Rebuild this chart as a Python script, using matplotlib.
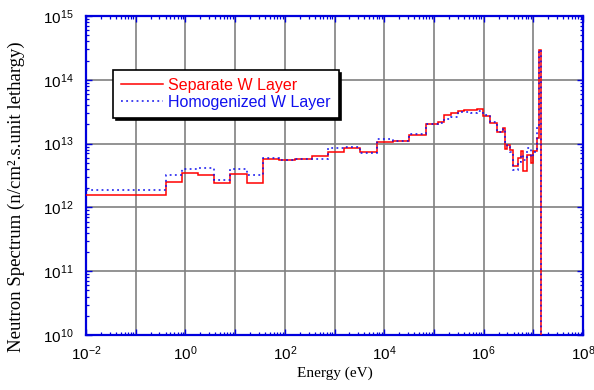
import numpy as np
import matplotlib
matplotlib.use("Agg")
import matplotlib.pyplot as plt
from matplotlib.ticker import LogLocator, FuncFormatter, NullFormatter

plt.rcParams['mathtext.fontset'] = 'custom'
plt.rcParams['mathtext.rm'] = 'Liberation Sans'
plt.rcParams['mathtext.it'] = 'Liberation Sans:italic'
plt.rcParams['mathtext.bf'] = 'Liberation Sans:bold'
plt.rcParams['font.family'] = ['Liberation Sans', 'DejaVu Sans']

# Energy group boundaries (eV)
edges = [1e-2, 0.414, 0.855, 1.82, 3.82, 8.0, 17.1, 36.4, 77.5, 164, 348, 730,
         1553, 3260, 7000, 14800, 31560, 67800, 1.19e5, 1.62e5, 2.21e5, 3.01e5,
         4.03e5, 5.48e5, 7.26e5, 9.86e5, 1.345e6, 1.836e6, 2.42e6, 2.66e6, 3.0e6,
         3.4e6, 3.96e6, 4.99e6, 5.58e6, 6.3e6, 7.37e6, 8.87e6, 1.0e7, 1.17e7,
         1.32e7, 1.43e7, 1e8]

separate = [1.55e12, 2.47e12, 3.50e12, 3.18e12, 2.41e12, 3.34e12, 2.39e12, 5.80e12,
            5.47e12, 5.80e12, 6.39e12, 7.31e12, 8.38e12, 7.46e12, 1.06e13, 1.10e13,
            1.34e13, 2.01e13, 2.16e13, 2.81e13, 3.07e13, 3.24e13, 3.36e13, 3.36e13,
            3.45e13, 2.71e13, 2.14e13, 1.50e13, 1.74e13, 8.15e12, 9.40e12, 7.94e12,
            4.46e12, 5.89e12, 7.74e12, 3.72e12, 6.63e12, 5.02e12, 7.74e12, 1.24e13,
            2.93e14, 1e5]

homogenized = [1.89e12, 3.22e12, 4.00e12, 4.10e12, 2.66e12, 4.00e12, 3.26e12, 6.01e12,
               5.59e12, 5.74e12, 5.76e12, 8.63e12, 8.85e12, 7.13e12, 1.18e13, 1.09e13,
               1.43e13, 2.01e13, 2.13e13, 2.40e13, 2.64e13, 3.10e13, 3.16e13, 3.05e13,
               3.28e13, 2.81e13, 2.20e13, 1.54e13, 1.68e13, 1.07e13, 8.94e12, 7.46e12,
               3.86e12, 5.20e12, 6.63e12, 5.53e12, 8.44e12, 6.24e12, 7.46e12, 1.84e13,
               2.93e14, 1e5]

labels = ["Separate W Layer", "Homogenized W Layer"]

fig = plt.figure(figsize=(5.94, 3.90), dpi=100)
ax = fig.add_axes([86/594, 1-335/390, (583-86)/594, (335-16)/390])

ax.stairs(separate, edges, color='#ff0000', lw=1.1, label=labels[0], zorder=3,
          baseline=None)
ax.stairs(homogenized, edges, color='#1010ee', lw=1.1, ls=(0, (1.2, 2.2)),
          label=labels[1], zorder=4, baseline=None)

ax.set_xscale('log')
ax.set_yscale('log')
ax.set_xlim(1e-2, 1e8)
ax.set_ylim(1e10, 1e15)

ax.xaxis.set_major_locator(LogLocator(base=10, numticks=30))
ax.yaxis.set_major_locator(LogLocator(base=10, numticks=30))
ax.xaxis.set_minor_locator(LogLocator(base=10, subs=np.arange(2, 10), numticks=200))
ax.yaxis.set_minor_locator(LogLocator(base=10, subs=np.arange(2, 10), numticks=200))
ax.xaxis.set_minor_formatter(NullFormatter())
ax.yaxis.set_minor_formatter(NullFormatter())

def xfmt(v, pos):
    e = int(round(np.log10(v)))
    return r'$\mathregular{10^{%d}}$' % e if e % 2 == 0 else ''

def yfmt(v, pos):
    e = int(round(np.log10(v)))
    return r'$\mathregular{10^{%d}}$' % e

ax.xaxis.set_major_formatter(FuncFormatter(xfmt))
ax.yaxis.set_major_formatter(FuncFormatter(yfmt))

spine_col = '#0000dd'
for s in ax.spines.values():
    s.set_color(spine_col)
    s.set_linewidth(1.6)
ax.tick_params(which='both', direction='in', top=True, right=True, color=spine_col)
ax.tick_params(which='major', length=4, width=1.0, labelsize=11)
ax.tick_params(which='minor', length=2.2, width=0.9)
ax.tick_params(axis='x', which='major', pad=7)
ax.tick_params(axis='y', which='major', pad=9)

ax.grid(True, which='major', color='#808080', lw=1.2)
ax.set_axisbelow(True)

ax.set_xlabel('Energy (eV)', family='Liberation Serif', fontsize=11)
ax.set_ylabel('Neutron Spectrum (n/cm\u00b2.s.unit lethargy)', family='Liberation Serif',
              fontsize=13.5)
ax.xaxis.set_label_coords(0.5, -0.098)
ax.yaxis.set_label_coords(-0.123, 0.433)

leg = ax.legend(loc='upper left', bbox_to_anchor=(27/497, 1-54/319), borderaxespad=0,
                fancybox=False, shadow={'color': 'black', 'alpha': 1},
                edgecolor='black', framealpha=1, fontsize=11.5,
                handlelength=2.6, handletextpad=0.35, borderpad=0.5, labelspacing=0.1)
leg.get_frame().set_linewidth(1.2)
for t, c in zip(leg.get_texts(), ['#ff0000', '#1010ee']):
    t.set_color(c)

fig.savefig('out.png', dpi=100)
